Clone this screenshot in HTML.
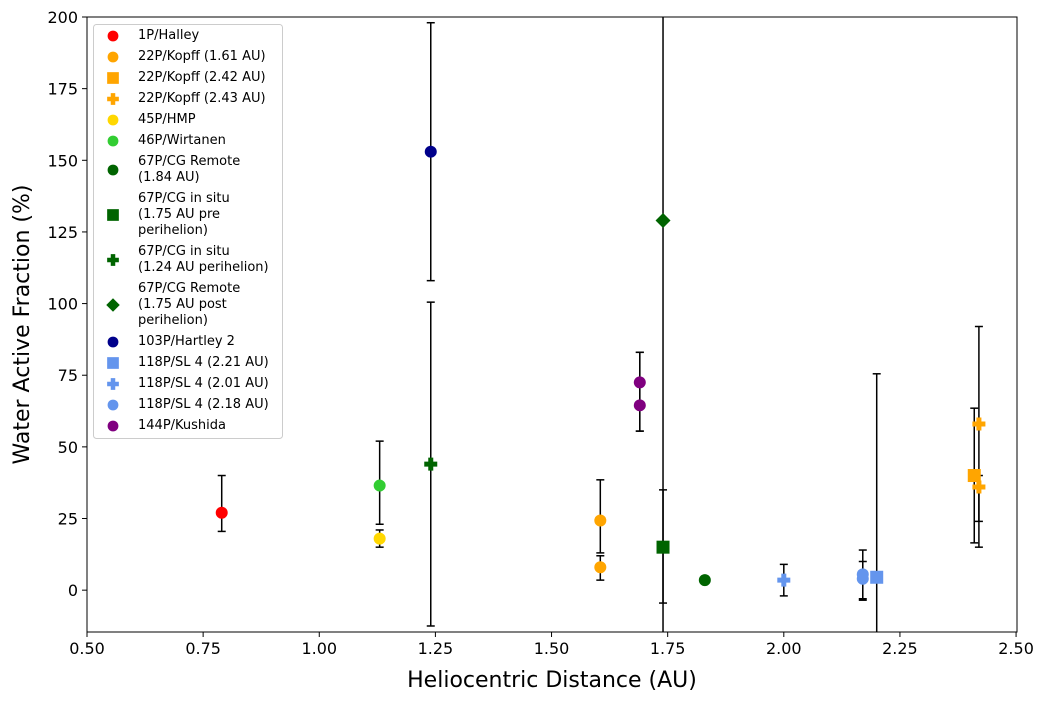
<!DOCTYPE html>
<html><head><meta charset="utf-8"><style>
body{margin:0;background:#fff;}
svg{display:block;font-family:"DejaVu Sans","Liberation Sans",sans-serif;}
</style></head><body>
<svg id="chart" width="1042" height="701"></svg>
<script>
// data arrays
const xTicks=[0.5,0.75,1.0,1.25,1.5,1.75,2.0,2.25,2.5];
const xTickLabels=["0.50","0.75","1.00","1.25","1.50","1.75","2.00","2.25","2.50"];
const yTicks=[0,25,50,75,100,125,150,175,200];
const pointX=[0.79,1.605,1.605,2.41,2.42,2.42,1.13,1.13,1.83,1.74,1.24,1.74,1.24,2.20,2.00,2.17,2.17,1.69,1.69];
const pointY=[27,24.3,8,40,58,36,18,36.5,3.5,15,44,129,153,4.5,3.5,4,5.5,72.5,64.5];
const errLow=[20.5,13,3.5,16.5,24,15,15,23,null,-4.5,-12.5,-30,108,-30,-2,-3,-3.5,55.5,55.5];
const errHigh=[40,38.5,12,63.5,92,40,21,52,null,35,100.5,280,198,75.5,9,10,14,83,83];
const pointSeries=[0,1,1,2,3,3,4,5,6,7,8,9,10,11,12,13,13,14,14];
const seriesNames=[["1P/Halley"],["22P/Kopff (1.61 AU)"],["22P/Kopff (2.42 AU)"],["22P/Kopff (2.43 AU)"],["45P/HMP"],["46P/Wirtanen"],["67P/CG Remote","(1.84 AU)"],["67P/CG in situ","(1.75 AU pre","perihelion)"],["67P/CG in situ","(1.24 AU perihelion)"],["67P/CG Remote","(1.75 AU post","perihelion)"],["103P/Hartley 2"],["118P/SL 4 (2.21 AU)"],["118P/SL 4 (2.01 AU)"],["118P/SL 4 (2.18 AU)"],["144P/Kushida"]];
const seriesColors=["#ff0000","#ffa500","#ffa500","#ffa500","#ffd700","#32cd32","#006400","#006400","#006400","#006400","#00008b","#6495ed","#6495ed","#6495ed","#800080"];
const seriesMarkers=["o","o","s","P","o","o","o","s","P","D","o","s","P","o","o"];

const NS="http://www.w3.org/2000/svg";
const svg=document.getElementById('chart');
const L=87,R=1017,T=17,B=632;
const X0=0.5,X1=2.502,Y0=-14.6,Y1=200;
const sx=v=>L+(v-X0)/(X1-X0)*(R-L);
const sy=v=>B-(v-Y0)/(Y1-Y0)*(B-T);
function mk(tag,attrs,parent){const e=document.createElementNS(NS,tag);for(const k in attrs)e.setAttribute(k,attrs[k]);(parent||svg).appendChild(e);return e;}
const clip=mk('clipPath',{id:'pc'});mk('rect',{x:L,y:T,width:R-L,height:B-T},clip);
const plot=mk('g',{'clip-path':'url(#pc)'});


function marker(type,cx,cy,color,parent,s){
  s=s||1;let e;
  if(type==='o')e=mk('circle',{cx,cy,r:6*s,fill:color},parent);
  else if(type==='s')e=mk('rect',{x:cx-6.5*s,y:cy-6.5*s,width:13*s,height:13*s,fill:color},parent);
  else if(type==='D')e=mk('polygon',{points:`${cx},${cy-7.5*s} ${cx+7.5*s},${cy} ${cx},${cy+7.5*s} ${cx-7.5*s},${cy}`,fill:color},parent);
  else {const a=6.5*s,b=2.5*s;e=mk('path',{d:`M${cx-b},${cy-a}h${2*b}v${a-b}h${a-b}v${2*b}h${-(a-b)}v${a-b}h${-2*b}v${-(a-b)}h${-(a-b)}v${-2*b}h${a-b}z`,fill:color},parent);}
  return e;
}
pointX.forEach((x,i)=>{
  if(errLow[i]===null)return;
  const px=sx(x);
  const g=mk('g',{stroke:'#000','stroke-width':1.5},plot);
  
  
  mk('line',{x1:px,x2:px,y1:sy(errLow[i]),y2:sy(errHigh[i])},g);
  mk('line',{x1:px-4,x2:px+4,y1:sy(errLow[i]),y2:sy(errLow[i])},g);
  mk('line',{x1:px-4,x2:px+4,y1:sy(errHigh[i]),y2:sy(errHigh[i])},g);
});
pointX.forEach((x,i)=>{
  const s=pointSeries[i];
  const e=marker(seriesMarkers[s],sx(x),sy(pointY[i]),seriesColors[s],plot);
  
  
});
const frame=mk('rect',{x:L,y:T,width:R-L,height:B-T,fill:'none',stroke:'#000','stroke-width':1});


xTicks.forEach((v,i)=>{
  const px=sx(v);
  mk('line',{x1:px,x2:px,y1:B,y2:B+5,stroke:'#000'});
  const t=mk('text',{x:px,y:B+22,'text-anchor':'middle','font-size':16});
  t.textContent=xTickLabels[i];
  
  
});
yTicks.forEach(v=>{
  const py=sy(v);
  mk('line',{x1:L-5,x2:L,y1:py,y2:py,stroke:'#000'});
  const t=mk('text',{x:L-9,y:py+6,'text-anchor':'end','font-size':16});
  t.textContent=v;
  
  
});
const xt=mk('text',{x:(L+R)/2,y:687,'text-anchor':'middle','font-size':22});
xt.textContent='Heliocentric Distance (AU)';


const yt=mk('text',{x:0,y:0,'text-anchor':'middle','font-size':22,transform:`translate(29,${(T+B)/2}) rotate(-90)`});
yt.textContent='Water Active Fraction (%)';


// legend
const lg=mk('g',{});


mk('rect',{x:93.5,y:24.5,width:189,height:414,rx:3,fill:'#fff','fill-opacity':0.8,stroke:'#ccc'},lg);
let cy=36, prevH=21;
seriesNames.forEach((lines,i)=>{
  const n=lines.length;
  const h=5+16*n;
  if(i>0) cy+=(prevH+h)/2;
  prevH=h;
  const ent=mk('g',{},lg);
  
  
  marker(seriesMarkers[i],113,cy,seriesColors[i],ent,0.9);
  lines.forEach((ln,j)=>{
    const t=mk('text',{x:138,y:cy+3+(j-(n-1)/2)*16,'font-size':13},ent);
    t.textContent=ln;
  });
});
</script>
</body></html>
